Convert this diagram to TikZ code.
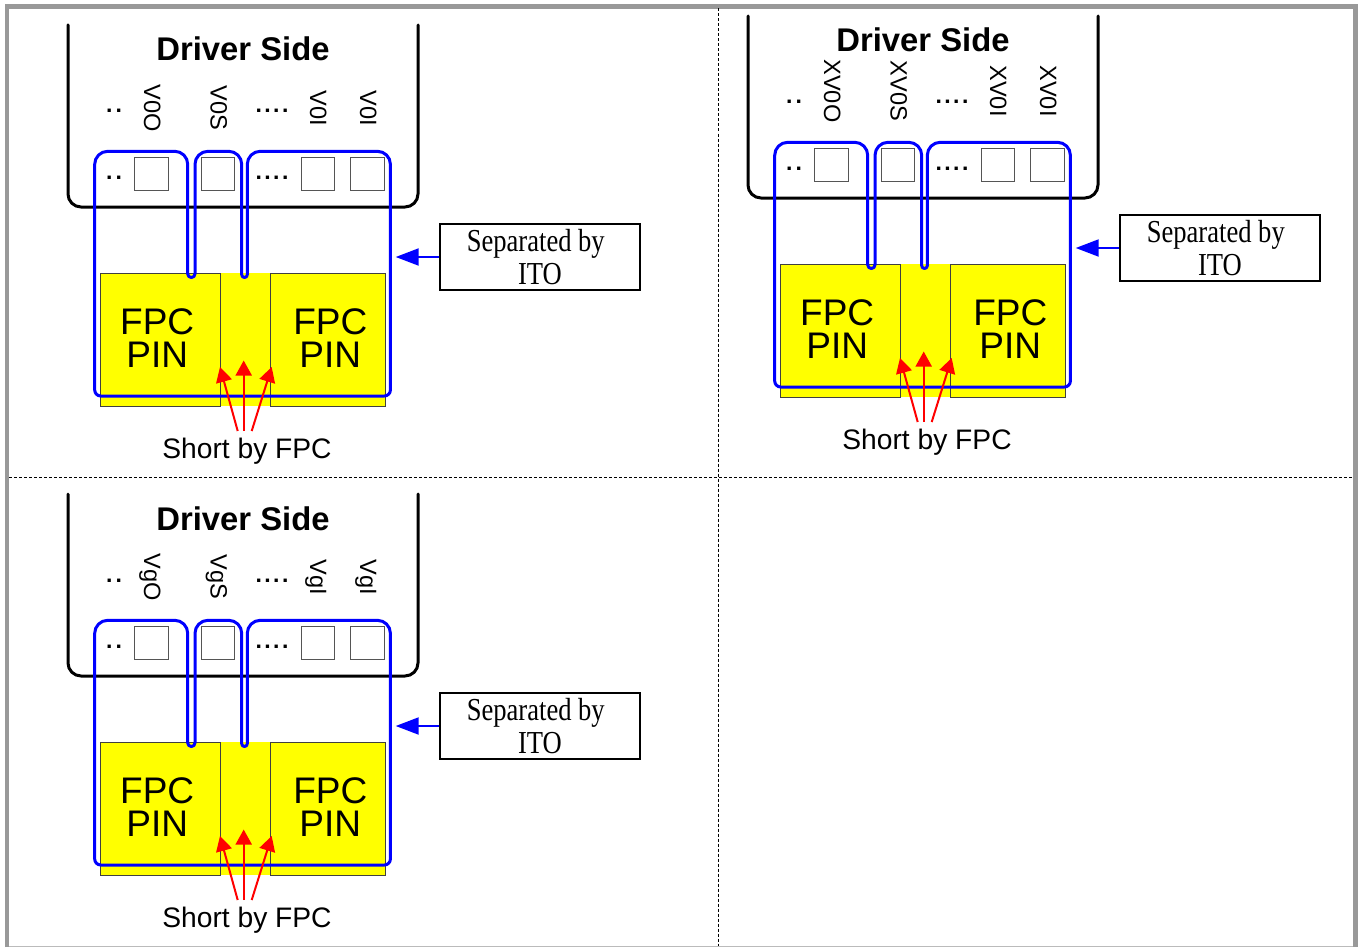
\documentclass[tikz,border=0pt]{standalone}
\usepackage{fontspec}
\setmainfont{Liberation Sans}
\newfontfamily\timesface{Liberation Serif}
\usetikzlibrary{arrows.meta}
\definecolor{framegray}{HTML}{999999}
\definecolor{edgegray}{HTML}{BBBBBB}
\definecolor{padgray}{HTML}{555555}
\definecolor{pureblue}{HTML}{0000FF}
\definecolor{purered}{HTML}{FF0000}
\definecolor{pureyellow}{HTML}{FFFF00}
\newcommand{\fsz}[1]{\fontsize{#1}{#1}\selectfont}
\newcommand{\twodots}{.\kern3.1pt.}
\newcommand{\fourdots}{.\kern2.4pt.\kern2.4pt.\kern2.4pt.}
\tikzset{
  txt/.style={inner sep=0pt,anchor=base},
  title/.style={txt,font=\fsz{32.8}\bfseries},
  pinlabel/.style={txt,rotate=-90,font=\fsz{23.6}},
  dots/.style={txt,font=\fsz{23}\bfseries},
  fpc/.style={inner sep=0pt,anchor=center,align=center,font=\fontsize{37}{32.5}\selectfont},
  shortlabel/.style={txt,font=\fsz{28.2}},
  sep/.style={txt,font=\fsz{32}\timesface},
  pad/.style={draw=padgray,line width=1pt,fill=white,minimum size=33.5pt,inner sep=0pt},
  driver/.style={draw=black,line width=3pt,line cap=round},
  pinbox/.style={draw=black!75,line width=1pt,fill=pureyellow,inner sep=0pt,anchor=north west},
  loopline/.style={draw=pureblue,line width=3pt,line join=round},
  redarrow/.style={draw=purered,line width=2pt,-{Triangle[length=15pt,width=16pt,fill=purered]}},
  bluearrow/.style={draw=pureblue,line width=2pt,-{Triangle[length=23pt,width=17pt,fill=pureblue]}},
  sepbox/.style={draw=black,line width=1.5pt,fill=white,inner sep=0pt,minimum width=200pt,minimum height=66pt},
  divider/.style={draw=black,line width=1.3pt,dash pattern=on 3pt off 2pt},
}
% #1,#2 shift, #3 prefix, #4 text y of rotated labels, #5-#8 labels
\newcommand{\panel}[8]{%
\begin{scope}[shift={(#1,#2)},name prefix=#3-]
  \draw[driver,rounded corners=13pt] (68,25) -- (68,207) -- (418,207) -- (418,25);
  \node[title] (title) at (243,61) {Driver Side};
  \node[dots] (dotsA) at (114,113) {\twodots};
  \node[dots] (dotsB) at (272,113) {\fourdots};
  \node[pinlabel] (la) at (144,#4) {#5};
  \node[pinlabel] (lb) at (210.5,#4) {#6};
  \node[pinlabel] (lc) at (310,#4) {#7};
  \node[pinlabel] (ld) at (360,#4) {#8};
  \node[dots] (dotsC) at (114,179) {\twodots};
  \node[dots] (dotsD) at (272,179) {\fourdots};
  \node[pad] (pa) at (151.5,174.2) {};
  \node[pad] (pb) at (218,174.2) {};
  \node[pad] (pc) at (318,174.2) {};
  \node[pad] (pd) at (367.7,174.2) {};
  \fill[pureyellow] (220,273) rectangle (270,406);
  \node[pinbox,minimum width=120pt,minimum height=133pt] (fl) at (99.7,272.7) {};
  \node[pinbox,minimum width=115pt,minimum height=133pt] (fr) at (269.7,272.7) {};
  \draw[loopline,rounded corners=13pt] (94.7,240) -- (94.7,151.3) -- (187.7,151.3)
     [rounded corners=3.6pt] -- (187.7,277.5) -- (195,277.5)
     [rounded corners=13pt] -- (195,151.3) -- (241.7,151.3)
     [rounded corners=2.8pt] -- (241.7,277.5) -- (247.3,277.5)
     [rounded corners=13pt] -- (247.3,151.3) -- (390.4,151.3)
     [rounded corners=6pt] -- (390.4,396) -- (94.7,396) -- cycle;
  \node[fpc] (fpl) at (157.2,338) {FPC\\PIN};
  \node[fpc] (fpr) at (330.3,338) {FPC\\PIN};
  \node[shortlabel] (short) at (247,458.5) {Short by FPC};
  \coordinate (ra) at (237.7,431);
  \coordinate (rb) at (243.7,431);
  \coordinate (rc) at (251.7,431);
  \coordinate (ta) at (220,367);
  \coordinate (tb) at (243.7,360.5);
  \coordinate (tc) at (271.7,367);
  \draw[redarrow] (ra) -- (ta);
  \draw[redarrow] (rb) -- (tb);
  \draw[redarrow] (rc) -- (tc);
  \node[sepbox] (box) at (540,257) {};
  \node[sep] (sa) at (535.8,251.5) {\scalebox{.83}[1]{Separated by}};
  \node[sep] (sb) at (540,284.5) {\scalebox{.83}[1]{ITO}};
  \coordinate (bt) at (395.7,257);
  \draw[bluearrow] (box.west) -- (bt);
\end{scope}}
\begin{document}
\begin{tikzpicture}[x=1pt,y=-1pt]
  \useasboundingbox (0,0) rectangle (1364,947);
  \fill[white] (0,0) rectangle (1364,947);
  \draw[edgegray,line width=1.2pt] (7,946.3) -- (1355.5,946.3);
  \draw[framegray,line width=4.8pt] (7,947) -- (7,6.2) -- (1355.7,6.2) -- (1355.7,947);
  \coordinate (vtop) at (718.7,8.5);
  \coordinate (vbot) at (718.7,946);
  \coordinate (hleft) at (9,477.7);
  \coordinate (hright) at (1353,477.7);
  \draw[divider] (vtop) -- (vbot);
  \draw[divider] (hleft) -- (hright);
  \panel{0}{0}{p1}{108}{V0O}{V0S}{V0I}{V0I}
  \panel{680}{-9}{p2}{100}{XV0O}{XV0S}{XV0I}{XV0I}
  \panel{0}{469}{p3}{108}{VgO}{VgS}{VgI}{VgI}
\end{tikzpicture}
\end{document}
